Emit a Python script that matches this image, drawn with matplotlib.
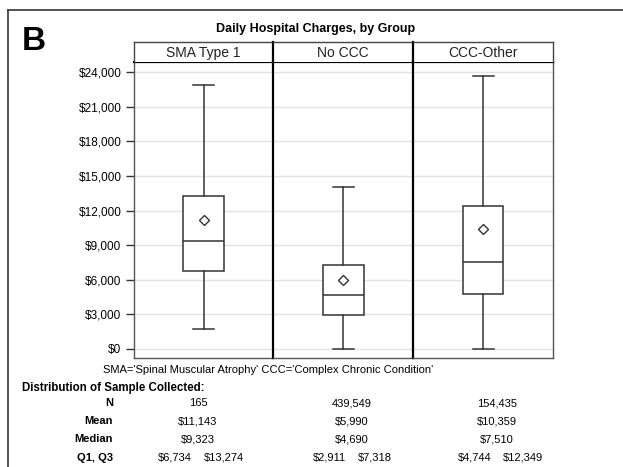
import matplotlib
matplotlib.use("Agg")
import matplotlib.pyplot as plt
from matplotlib.lines import Line2D

plt.rcParams['font.family'] = ['Liberation Sans', 'DejaVu Sans']

# ---- data ----
groups = ["SMA Type 1", "No CCC", "CCC-Other"]
whisker_low = [1700, 0, 0]
q1 = [6734, 2911, 4744]
median = [9323, 4690, 7510]
q3 = [13274, 7318, 12349]
whisker_high = [22900, 14000, 23700]
mean = [11143, 5990, 10359]

n_labels = ["165", "439,549", "154,435"]
mean_labels = ["$11,143", "$5,990", "$10,359"]
median_labels = ["$9,323", "$4,690", "$7,510"]
q1_labels = ["$6,734", "$2,911", "$4,744"]
q3_labels = ["$13,274", "$7,318", "$12,349"]

yticks = [0, 3000, 6000, 9000, 12000, 15000, 18000, 21000, 24000]
ytick_labels = ["${:,}".format(v) for v in yticks]

W, H = 623, 467
fig = plt.figure(figsize=(W / 100, H / 100), dpi=100)


def rect(x0, y0, x1, y1):
    return [x0 / W, 1 - y1 / H, (x1 - x0) / W, (y1 - y0) / H]


def fx(x):
    return x / W


def fy(y):
    return 1 - y / H


# outer border
fig.add_artist(Line2D([fx(8), fx(8)], [fy(10), fy(470)], color='#444444', lw=1.3))
fig.add_artist(Line2D([fx(8), fx(625)], [fy(10), fy(10)], color='#444444', lw=1.3))

fig.text(fx(22), fy(41), "B", fontsize=24, fontweight='bold', va='center', ha='left')
fig.text(fx(316), fy(29), "Daily Hospital Charges, by Group", fontsize=9,
         fontweight='bold', ha='center', va='center')

edges = [134, 273.3, 413.3, 553]
top, bottom = 62, 358
htop = 42
ylim = (-780, 24870)

for i, g in enumerate(groups):
    x0, x1 = edges[i], edges[i + 1]
    ax = fig.add_axes(rect(x0, top, x1, bottom))
    stats = [dict(whislo=whisker_low[i], q1=q1[i], med=median[i], q3=q3[i],
                  whishi=whisker_high[i], mean=mean[i], fliers=[])]
    lc = '#333333'
    ax.bxp(stats, positions=[0], widths=0.29, capwidths=0.15, showmeans=True,
           patch_artist=True, manage_ticks=False,
           boxprops=dict(facecolor='white', edgecolor=lc, lw=1.1),
           medianprops=dict(color=lc, lw=1.1),
           whiskerprops=dict(color=lc, lw=1.1),
           capprops=dict(color=lc, lw=1.1),
           meanprops=dict(marker='D', markerfacecolor='white',
                          markeredgecolor=lc, markersize=5.5, markeredgewidth=1.0))
    ax.set_xlim(-0.5, 0.5)
    ax.set_ylim(*ylim)
    ax.set_yticks(yticks)
    ax.set_xticks([])
    ax.grid(axis='y', color='#e3e3e3', lw=1.0)
    ax.set_axisbelow(True)
    if i == 0:
        ax.set_yticklabels(ytick_labels, fontsize=8.5)
        ax.tick_params(axis='y', length=6, width=1, color='#333333', pad=3)
    else:
        ax.tick_params(axis='y', length=0, labelleft=False)
    for s in ['bottom', 'right', 'left', 'top']:
        ax.spines[s].set_color('#555555')
        ax.spines[s].set_linewidth(1.0)
    if i > 0:
        ax.spines['left'].set_color('black')
        ax.spines['left'].set_linewidth(1.6)
    if i < 2:
        ax.spines['right'].set_visible(False)
    ax.spines['top'].set_color('black')
    ax.spines['top'].set_linewidth(1.6)

    hx = fig.add_axes(rect(x0, htop, x1, top))
    hx.set_xticks([])
    hx.set_yticks([])
    for s in ['bottom', 'right', 'left', 'top']:
        hx.spines[s].set_color('#444444')
        hx.spines[s].set_linewidth(1.0)
    if i > 0:
        hx.spines['left'].set_color('black')
        hx.spines['left'].set_linewidth(1.6)
    if i < 2:
        hx.spines['right'].set_visible(False)
    hx.spines['bottom'].set_visible(False)
    hx.text(0.5, 0.45, g, fontsize=10, color='#222222', ha='center', va='center',
            transform=hx.transAxes)

# footnote and table
fig.text(fx(103), fy(370), "SMA='Spinal Muscular Atrophy' CCC='Complex Chronic Condition'",
         fontsize=8, ha='left', va='center')
fig.text(fx(22), fy(388), "Distribution of Sample Collected:", fontsize=8.3,
         fontweight='bold', ha='left', va='center')

row_y = [403, 421, 439, 458]
row_names = ["N", "Mean", "Median", "Q1, Q3"]
for name, y in zip(row_names, row_y):
    fig.text(fx(113), fy(y), name, fontsize=8, fontweight='bold', ha='right', va='center')

col_x = [198, 352, 497]
fs = 8
for j in range(3):
    fig.text(fx(col_x[j]), fy(row_y[0]), n_labels[j], fontsize=fs, ha='center', va='center')
    fig.text(fx(col_x[j]), fy(row_y[1]), mean_labels[j], fontsize=fs, ha='center', va='center')
    fig.text(fx(col_x[j]), fy(row_y[2]), median_labels[j], fontsize=fs, ha='center', va='center')
    fig.text(fx(col_x[j] - 6), fy(row_y[3]), q1_labels[j], fontsize=fs, ha='right', va='center')
    fig.text(fx(col_x[j] + 6), fy(row_y[3]), q3_labels[j], fontsize=fs, ha='left', va='center')

fig.savefig("out.png", dpi=100)
